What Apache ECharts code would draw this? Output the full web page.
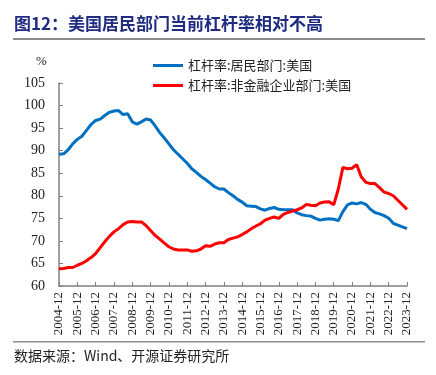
<!DOCTYPE html>
<html><head><meta charset="utf-8">
<script src="https://cdn.jsdelivr.net/npm/echarts@6/dist/echarts.min.js"></script>
<style>html,body{margin:0;padding:0;background:#fff}#c{width:436px;height:375px}</style>
</head><body><div id="c"></div>
<script>
const titleText = '图12：美国居民部门当前杠杆率相对不高';
const sourceText = '数据来源：Wind、开源证券研究所';
const seriesNames = ['杠杆率:居民部门:美国', '杠杆率:非金融企业部门:美国'];
const startYear = 2004, endYear = 2023;
const months = ['03', '06', '09', '12'];
const categories = ['2004-12'];
for (let y = startYear + 1; y <= endYear; y++) for (const m of months) categories.push(y + '-' + m);
const household = [
  89.2, 89.3, 90.2, 91.5, 92.5, 93.2, 94.5, 95.8, 96.7, 97.0, 97.8, 98.5, 98.8, 98.9, 98.0, 98.2,
  96.4, 95.9, 96.4, 97.0, 96.8, 95.5, 94.0, 92.8, 91.5, 90.2, 89.2, 88.2, 87.2, 86.0, 85.2, 84.3,
  83.6, 82.8, 82.0, 81.5, 81.5, 80.7, 80.0, 79.2, 78.6, 77.8, 77.7, 77.6, 77.1, 76.8, 77.2, 77.4,
  77.0, 76.9, 76.9, 76.9, 76.2, 75.8, 75.6, 75.5, 75.0, 74.6, 74.8, 74.9, 74.8, 74.5, 76.5, 78.0,
  78.4, 78.2, 78.5, 78.1, 77.0, 76.3, 76.0, 75.6, 75.0, 73.9, 73.5, 73.1, 72.7
];
const corporate = [
  63.8, 63.9, 64.1, 64.1, 64.6, 65.0, 65.6, 66.3, 67.2, 68.5, 69.8, 71.0, 72.0, 72.7, 73.6, 74.2,
  74.3, 74.2, 74.2, 73.4, 72.3, 71.2, 70.4, 69.5, 68.7, 68.2, 68.0, 68.0, 68.0, 67.7, 67.8, 68.2,
  68.9, 68.8, 69.3, 69.6, 69.6, 70.3, 70.6, 70.9, 71.4, 72.0, 72.7, 73.3, 73.8, 74.6, 75.0, 75.3,
  75.0, 75.9, 76.3, 76.6, 76.9, 77.3, 78.1, 77.9, 77.8, 78.4, 78.6, 78.7, 78.0, 81.5, 86.3, 86.0,
  86.1, 86.9, 84.2, 83.0, 82.7, 82.7, 81.8, 80.8, 80.5, 80.0, 79.0, 78.0, 77.0
];
const yMin = 60, yMax = 105, yStep = 5;

const chart = echarts.init(document.getElementById('c'));
const serif = '"Liberation Serif","Times New Roman",serif';
const cjk = '"Noto Sans CJK SC","Noto Sans",sans-serif';
chart.setOption({
  animation: false,
  backgroundColor: '#fff',
  grid: {left: 59, right: 29, top: 83, bottom: 89, containLabel: false},
  graphic: [
    {type: 'text', left: 14, top: 15, style: {text: titleText, font: 'bold 17px ' + cjk, fill: '#1f2c82'}},
    {type: 'rect', shape: {x: 13, y: 38, width: 412, height: 2}, style: {fill: '#8c8c8c'}},
    {type: 'rect', shape: {x: 13, y: 341, width: 412, height: 1.5}, style: {fill: '#8c8c8c'}},
    {type: 'text', left: 14, top: 349, style: {text: sourceText, font: '14px ' + cjk, fill: '#222'}},
    {type: 'text', left: 36, top: 55, style: {text: '%', font: '13px ' + serif, fill: '#222'}}
  ],
  legend: {
    orient: 'vertical', left: 148, top: 54, itemWidth: 30, itemHeight: 14, itemGap: 7,
    icon: 'path://M0,5.5 L30,5.5 L30,8.5 L0,8.5 Z',
    textStyle: {fontFamily: cjk, fontSize: 13, color: '#222'},
    data: seriesNames
  },
  xAxis: {
    type: 'category', data: categories, boundaryGap: false,
    axisLine: {lineStyle: {color: '#808080', width: 1.5}},
    axisTick: {inside: true, length: 4, interval: 3, lineStyle: {color: '#808080'}},
    axisLabel: {interval: 3, rotate: 90, fontFamily: serif, fontSize: 13, color: '#222', margin: 6},
    splitLine: {show: false}
  },
  yAxis: {
    type: 'value', min: yMin, max: yMax, interval: yStep,
    axisLine: {show: true, lineStyle: {color: '#808080', width: 1.5}},
    axisTick: {show: true, inside: true, length: 4, lineStyle: {color: '#808080'}},
    axisLabel: {fontFamily: serif, fontSize: 14, color: '#222', margin: 14},
    splitLine: {show: false}
  },
  series: [
    {name: seriesNames[0], type: 'line', data: household, symbol: 'none', lineStyle: {width: 3, color: '#0070c0'}, itemStyle: {color: '#0070c0'}},
    {name: seriesNames[1], type: 'line', data: corporate, symbol: 'none', lineStyle: {width: 3, color: '#ff0000'}, itemStyle: {color: '#ff0000'}}
  ]
});
</script></body></html>
